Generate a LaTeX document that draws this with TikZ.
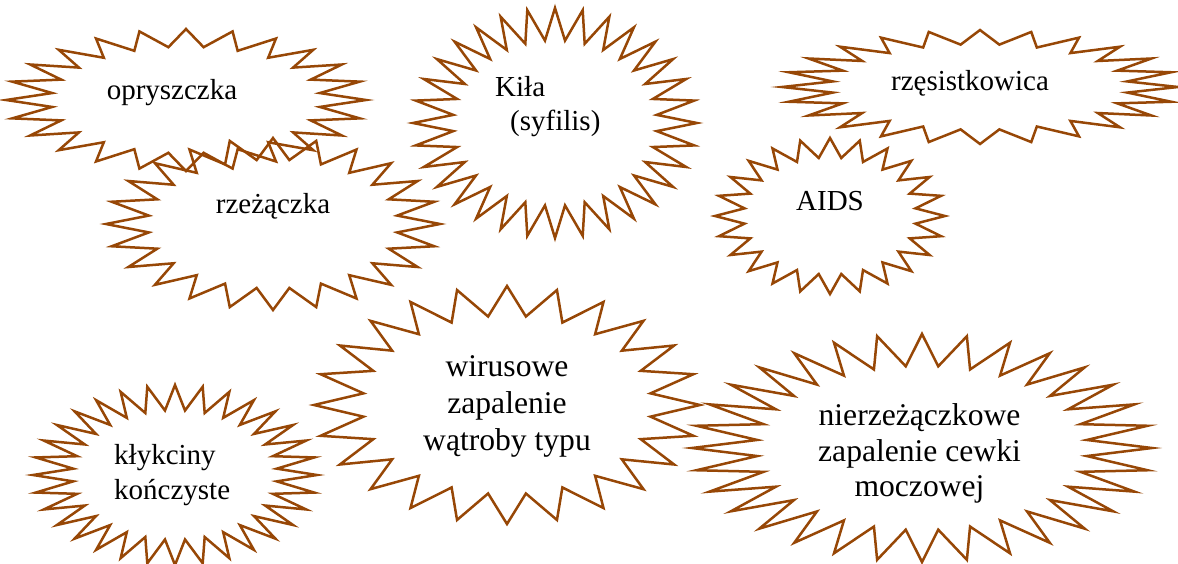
\documentclass[tikz,border=0pt]{standalone}
\usepackage{fontspec}
\setmainfont{Liberation Serif}
\definecolor{burst}{HTML}{974706}
\tikzset{
  burstline/.style={draw=burst, line width=2.5pt, line join=miter},
  lbl/.style={anchor=base, inner sep=0pt, text=black, font=\fontsize{29}{35}\selectfont},
  lblbig/.style={lbl, font=\fontsize{31.6}{36}\selectfont}
}
% #1 cx, #2 cy, #3 rx, #4 ry, #5 points, #6 2*points-1, #7 inner ratio
\newcommand\burstshape[7]{%
  \draw[burstline] (#1,#2-#4)
    \foreach \i in {1,...,#6}{
      -- ({#1+#3*((1+#7)/2+(1-#7)/2*cos(180*\i))*cos(90+180*\i/#5)},
          {#2-#4*((1+#7)/2+(1-#7)/2*cos(180*\i))*sin(90+180*\i/#5)})
    } -- cycle;}
\begin{document}
\begin{tikzpicture}[x=1pt,y=-1pt]
\useasboundingbox (0,0) rectangle (1178,563);
% star outlines
\burstshape{186}{100}{180}{71}{24}{47}{0.75}
\burstshape{273}{224}{167}{86}{24}{47}{0.75}
\burstshape{555}{123}{142}{115}{32}{63}{0.72}
\burstshape{980}{87}{198}{57}{24}{47}{0.75}
\burstshape{830}{216}{115}{78}{24}{47}{0.75}
\burstshape{175}{475}{142}{90}{32}{63}{0.72}
\burstshape{507}{405}{193}{119}{24}{47}{0.75}
\burstshape{922}{448}{230}{114}{32}{63}{0.72}
% labels
\node[lbl] (opr) at (172,99) {opryszczka};
\node[lbl] (rze) at (273,213) {rzeżączka};
\node[lbl, anchor=base west] (kila1) at (495,96.7) {Kiła};
\node[lbl, anchor=base west] (kila2) at (510,130.7) {(syfilis)};
\node[lbl] (rzes) at (970,90) {rzęsistkowica};
\node[lbl] (aids) at (830,210) {AIDS};
\node[lbl, anchor=base west] (kly1) at (114,464) {kłykciny};
\node[lbl, anchor=base west] (kly2) at (114,499.3) {kończyste};
\node[lblbig] (wir1) at (507,376.7) {wirusowe};
\node[lblbig] (wir2) at (507,413.3) {zapalenie};
\node[lblbig] (wir3) at (507,450) {wątroby typu};
\node[lblbig] (nie1) at (919.5,425) {nierzeżączkowe};
\node[lblbig] (nie2) at (919.5,461.7) {zapalenie cewki};
\node[lblbig] (nie3) at (919.5,496.7) {moczowej};
\end{tikzpicture}
\end{document}
